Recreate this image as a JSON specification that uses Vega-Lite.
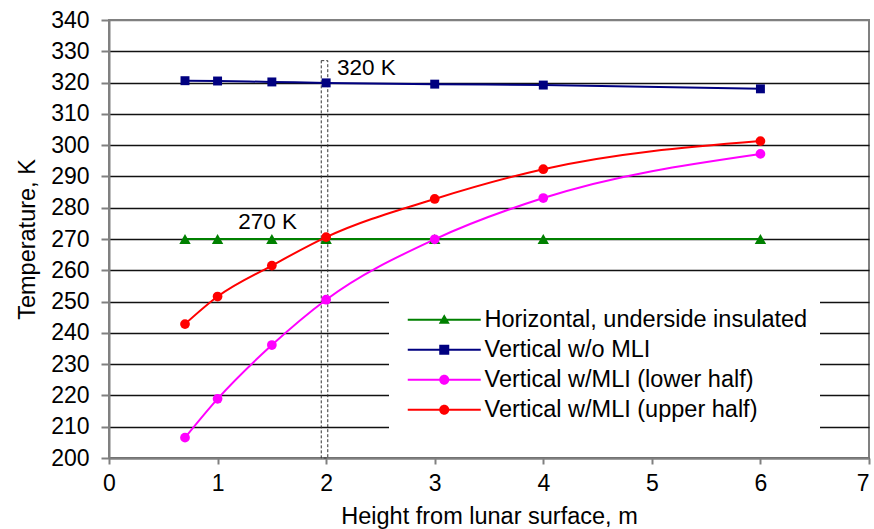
{
  "$schema": "https://vega.github.io/schema/vega-lite/v6.json",
  "width": 760,
  "height": 438,
  "autosize": {"type": "none"},
  "padding": {"left": 109, "top": 20, "right": 5, "bottom": 71},
  "background": "white",
  "config": {
    "font": "Liberation Sans",
    "view": {"stroke": "#808080", "strokeWidth": 2},
    "axisX": {
      "grid": false,
      "domainColor": "#808080",
      "domainWidth": 2,
      "tickColor": "#808080",
      "tickWidth": 2,
      "tickSize": 6,
      "labelFontSize": 23,
      "labelColor": "black",
      "labelPadding": 8,
      "labelFlush": false,
      "labelAlign": {"condition": {"test": "datum.value == 7", "value": "right"}, "value": "center"},
      "titleFontSize": 23.5,
      "titleFontWeight": "normal",
      "titleColor": "black",
      "titleY": 65,
      "titleBaseline": "alphabetic"
    },
    "axisY": {
      "grid": true,
      "gridColor": {"condition": {"test": "datum.value == 340", "value": "#808080"}, "value": "#111111"},
      "gridWidth": 1.3,
      "domainColor": "#808080",
      "domainWidth": 2,
      "tickColor": "#808080",
      "tickWidth": 2,
      "tickSize": 8,
      "labelFontSize": 23,
      "labelColor": "black",
      "labelPadding": 12,
      "labelFlush": false,
      "labelOverlap": false,
      "titleFontSize": 23.5,
      "titleFontWeight": "normal",
      "titleColor": "black",
      "titleAngle": -90,
      "titleX": -82,
      "titleY": 219,
      "titleAlign": "center",
      "titleBaseline": "middle"
    }
  },
  "datasets": {
    "main": [
      {"series": "Horizontal, underside insulated", "x": 0.7, "y": 270},
      {"series": "Horizontal, underside insulated", "x": 1, "y": 270},
      {"series": "Horizontal, underside insulated", "x": 1.5, "y": 270},
      {"series": "Horizontal, underside insulated", "x": 2, "y": 270},
      {"series": "Horizontal, underside insulated", "x": 3, "y": 270},
      {"series": "Horizontal, underside insulated", "x": 4, "y": 270},
      {"series": "Horizontal, underside insulated", "x": 6, "y": 270},
      {"series": "Vertical w/o MLI", "x": 0.7, "y": 320.6},
      {"series": "Vertical w/o MLI", "x": 1, "y": 320.5},
      {"series": "Vertical w/o MLI", "x": 1.5, "y": 320.2},
      {"series": "Vertical w/o MLI", "x": 2, "y": 319.9},
      {"series": "Vertical w/o MLI", "x": 3, "y": 319.5},
      {"series": "Vertical w/o MLI", "x": 4, "y": 319.2},
      {"series": "Vertical w/o MLI", "x": 6, "y": 318.0},
      {"series": "Vertical w/MLI (lower half)", "x": 0.7, "y": 206.5},
      {"series": "Vertical w/MLI (lower half)", "x": 1, "y": 218.9},
      {"series": "Vertical w/MLI (lower half)", "x": 1.5, "y": 236.1},
      {"series": "Vertical w/MLI (lower half)", "x": 2, "y": 250.6},
      {"series": "Vertical w/MLI (lower half)", "x": 3, "y": 269.9},
      {"series": "Vertical w/MLI (lower half)", "x": 4, "y": 283.1},
      {"series": "Vertical w/MLI (lower half)", "x": 6, "y": 297.2},
      {"series": "Vertical w/MLI (upper half)", "x": 0.7, "y": 242.8},
      {"series": "Vertical w/MLI (upper half)", "x": 1, "y": 251.6},
      {"series": "Vertical w/MLI (upper half)", "x": 1.5, "y": 261.5},
      {"series": "Vertical w/MLI (upper half)", "x": 2, "y": 270.6},
      {"series": "Vertical w/MLI (upper half)", "x": 3, "y": 282.8},
      {"series": "Vertical w/MLI (upper half)", "x": 4, "y": 292.3},
      {"series": "Vertical w/MLI (upper half)", "x": 6, "y": 301.3}
    ],
    "box": [
      {"x": 1.955, "x2": 2.015, "y": 200, "y2": 327}
    ],
    "notes": [
      {"x": 2.1, "y": 324.6, "label": "320 K"},
      {"x": 1.19, "y": 275.5, "label": "270 K"}
    ]
  },
  "resolve": {"legend": {"color": "independent", "shape": "independent"}},
  "layer": [
    {
      "data": {"name": "box"},
      "mark": {"type": "rect", "filled": false, "stroke": "#333333", "strokeWidth": 1, "strokeDash": [3, 2]},
      "encoding": {
        "x": {"field": "x", "type": "quantitative", "scale": {"domain": [0, 7], "nice": false, "zero": false}, "title": "Height from lunar surface, m", "axis": {"values": [0, 1, 2, 3, 4, 5, 6, 7], "format": "d"}},
        "x2": {"field": "x2"},
        "y": {"field": "y", "type": "quantitative", "scale": {"domain": [200, 340], "nice": false, "zero": false}, "title": "Temperature, K", "axis": {"tickCount": 14, "format": "d", "labelOverlap": false}},
        "y2": {"field": "y2"}
      }
    },
    {
      "data": {"name": "main"},
      "mark": {"type": "line", "strokeWidth": 2, "interpolate": "monotone"},
      "encoding": {
        "x": {"field": "x", "type": "quantitative", "title": "Height from lunar surface, m"},
        "y": {"field": "y", "type": "quantitative", "title": "Temperature, K"},
        "detail": {"field": "series"},
        "color": {
          "field": "series", "type": "nominal", "legend": null,
          "scale": {
            "domain": ["Horizontal, underside insulated", "Vertical w/o MLI", "Vertical w/MLI (lower half)", "Vertical w/MLI (upper half)"],
            "range": ["#008000", "#000080", "#FF00FF", "#FF0000"]
          }
        }
      }
    },
    {
      "data": {"name": "main"},
      "transform": [{"filter": "datum.series == 'Horizontal, underside insulated'"}],
      "mark": {"type": "point", "shape": "triangle-up", "filled": true, "opacity": 1, "size": 130},
      "encoding": {
        "x": {"field": "x", "type": "quantitative", "title": "Height from lunar surface, m"},
        "y": {"field": "y", "type": "quantitative", "title": "Temperature, K"},
        "color": {"field": "series", "type": "nominal", "legend": null}
      }
    },
    {
      "data": {"name": "main"},
      "transform": [{"filter": "datum.series == 'Vertical w/o MLI'"}],
      "mark": {"type": "point", "shape": "square", "filled": true, "opacity": 1, "size": 80},
      "encoding": {
        "x": {"field": "x", "type": "quantitative", "title": "Height from lunar surface, m"},
        "y": {"field": "y", "type": "quantitative", "title": "Temperature, K"},
        "color": {"field": "series", "type": "nominal", "legend": null}
      }
    },
    {
      "data": {"name": "main"},
      "transform": [{"filter": "datum.series == 'Vertical w/MLI (lower half)' || datum.series == 'Vertical w/MLI (upper half)'"}],
      "mark": {"type": "point", "shape": "circle", "filled": true, "opacity": 1, "size": 95},
      "encoding": {
        "x": {"field": "x", "type": "quantitative", "title": "Height from lunar surface, m"},
        "y": {"field": "y", "type": "quantitative", "title": "Temperature, K"},
        "color": {"field": "series", "type": "nominal", "legend": null}
      }
    },
    {
      "data": {"name": "notes"},
      "mark": {"type": "text", "align": "left", "baseline": "middle", "fontSize": 22.5, "color": "black"},
      "encoding": {
        "x": {"field": "x", "type": "quantitative", "title": "Height from lunar surface, m"},
        "y": {"field": "y", "type": "quantitative", "title": "Temperature, K"},
        "text": {"field": "label"}
      }
    },
    {
      "data": {"name": "main"},
      "mark": {"type": "point", "filled": true, "opacity": 0},
      "encoding": {
        "x": {"field": "x", "type": "quantitative", "title": "Height from lunar surface, m"},
        "y": {"field": "y", "type": "quantitative", "title": "Temperature, K"},
        "color": {
          "field": "series", "type": "nominal",
          "legend": {
            "title": null, "orient": "none", "legendX": 280, "legendY": 276,
            "fillColor": "white", "padding": 12, "labelFontSize": 23.5, "labelColor": "black",
            "labelLimit": 500, "symbolSize": 100, "symbolStrokeWidth": 0, "symbolOpacity": 1,
            "labelOffset": 60, "rowPadding": 5
          }
        },
        "shape": {
          "field": "series", "type": "nominal",
          "scale": {
            "domain": ["Horizontal, underside insulated", "Vertical w/o MLI", "Vertical w/MLI (lower half)", "Vertical w/MLI (upper half)"],
            "range": [
              "M-1,-0.2H13.6V0.2H-1ZM6.3,-1.1L7.4,0.8L5.2,0.8Z",
              "M-1,-0.2H13.6V0.2H-1ZM5.3,-1H7.3V1H5.3Z",
              "M-1,-0.2H13.6V0.2H-1ZM5.3,0A1,1 0 1,1 7.3,0A1,1 0 1,1 5.3,0Z",
              "M-1,-0.2H13.6V0.2H-1ZM5.3,0A1,1 0 1,1 7.3,0A1,1 0 1,1 5.3,0Z"
            ]
          },
          "legend": {
            "title": null, "orient": "none", "legendX": 280, "legendY": 276,
            "fillColor": "white", "padding": 12, "labelFontSize": 23.5, "labelColor": "black",
            "labelLimit": 500, "symbolSize": 100, "symbolStrokeWidth": 0, "symbolOpacity": 1,
            "labelOffset": 60, "rowPadding": 5
          }
        }
      }
    }
  ]
}
